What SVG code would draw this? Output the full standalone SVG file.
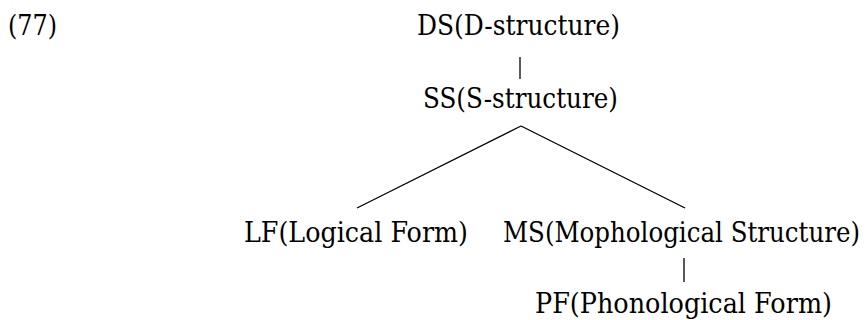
<svg xmlns="http://www.w3.org/2000/svg" width="867" height="320" viewBox="0 0 867 320">
<style>
text{font-size:28px;fill:#000}
.c line{stroke:#000;stroke-width:1.3}
</style>
<rect width="867" height="320" fill="#fff"/>
<g font-family="DejaVu Serif, serif">
<text id="num" x="8" y="35" textLength="49" lengthAdjust="spacingAndGlyphs">(77)</text>
<g id="DS"><text x="417" y="35" textLength="203" lengthAdjust="spacingAndGlyphs">DS(D-structure)</text></g>
<g id="SS"><text x="423" y="108" textLength="195" lengthAdjust="spacingAndGlyphs">SS(S-structure)</text></g>
<g id="LF"><text x="244" y="242" textLength="224" lengthAdjust="spacingAndGlyphs">LF(Logical Form)</text></g>
<g id="MS"><text x="503" y="242" textLength="357" lengthAdjust="spacingAndGlyphs">MS(Mophological Structure)</text></g>
<g id="PF"><text x="535" y="313" textLength="297" lengthAdjust="spacingAndGlyphs">PF(Phonological Form)</text></g>
</g>
<g class="c" id="connectors">
<line x1="520" y1="57" x2="520" y2="79"/>
<line x1="521" y1="126" x2="357" y2="208"/>
<line x1="521" y1="126" x2="685" y2="208"/>
<line x1="684" y1="258" x2="684" y2="282"/>
</g>
</svg>
